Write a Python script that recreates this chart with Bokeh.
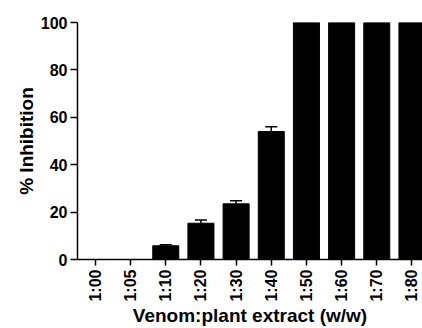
import math
from bokeh.plotting import figure
from bokeh.models import Whisker, ColumnDataSource, FixedTicker, Range1d
from bokeh.embed import file_html
from bokeh.resources import INLINE

categories = ["1:00", "1:05", "1:10", "1:20", "1:30", "1:40", "1:50", "1:60", "1:70", "1:80"]
inhibition = [0, 0, 5.8, 15.3, 23.5, 54.0, 100, 100, 100, 100]
errors = [0, 0, 0.4, 1.4, 1.3, 2.0, 0, 0, 0, 0]
y_ticks = [0, 20, 40, 60, 80, 100]

xs = list(range(len(categories)))
has_err = [e > 0 for e in errors]
src = ColumnDataSource(dict(x=xs, top=inhibition))
err_src = ColumnDataSource(dict(
    x=[x for x, h in zip(xs, has_err) if h],
    lower=[v for v, h in zip(inhibition, has_err) if h],
    upper=[v + e for v, e, h in zip(inhibition, errors, has_err) if h],
))

FONT = "Liberation Sans"

p = figure(width=422, height=328, output_backend="svg", toolbar_location=None,
           x_range=Range1d(-0.51, 9.3), y_range=Range1d(0, 100),
           min_border_left=77, min_border_right=0, min_border_top=22, min_border_bottom=69)
p.outline_line_color = None
p.grid.grid_line_color = None
p.background_fill_color = "white"
p.border_fill_color = "white"

p.vbar(x="x", top="top", width=0.74, bottom=0, source=src,
       fill_color="black", line_color="black")

w = Whisker(base="x", lower="lower", upper="upper", source=err_src,
            line_color="black", line_width=1.5, lower_head=None)
w.upper_head.size = 12
w.upper_head.line_width = 1.5
w.upper_head.line_color = "black"
p.add_layout(w)

p.xaxis.ticker = FixedTicker(ticks=xs)
p.xaxis.major_label_overrides = {x: c for x, c in zip(xs, categories)}
p.xaxis.major_label_orientation = math.pi / 2
p.yaxis.ticker = FixedTicker(ticks=y_ticks)

for ax in (p.xaxis, p.yaxis):
    ax.axis_line_width = 1.5
    ax.axis_line_color = "black"
    ax.major_tick_line_width = 1.5
    ax.major_tick_line_color = "black"
    ax.major_tick_in = 0
    ax.minor_tick_line_color = None
    ax.major_label_text_font = FONT
    ax.major_label_text_font_style = "bold"
    ax.major_label_text_font_size = "16px"
    ax.major_label_text_color = "black"
    ax.axis_label_text_font = FONT
    ax.axis_label_text_font_style = "bold"
    ax.axis_label_text_font_size = "19px"
    ax.axis_label_text_color = "black"

p.xaxis.major_tick_out = 6
p.yaxis.major_tick_out = 7
p.xaxis.major_label_standoff = 4
p.yaxis.major_label_standoff = 3
p.xaxis.axis_label = "Venom:plant extract (w/w)"
p.yaxis.axis_label = "% Inhibition"
p.xaxis.axis_label_standoff = 0
p.yaxis.axis_label_standoff = 1

open("out.html", "w").write(file_html(p, INLINE))
